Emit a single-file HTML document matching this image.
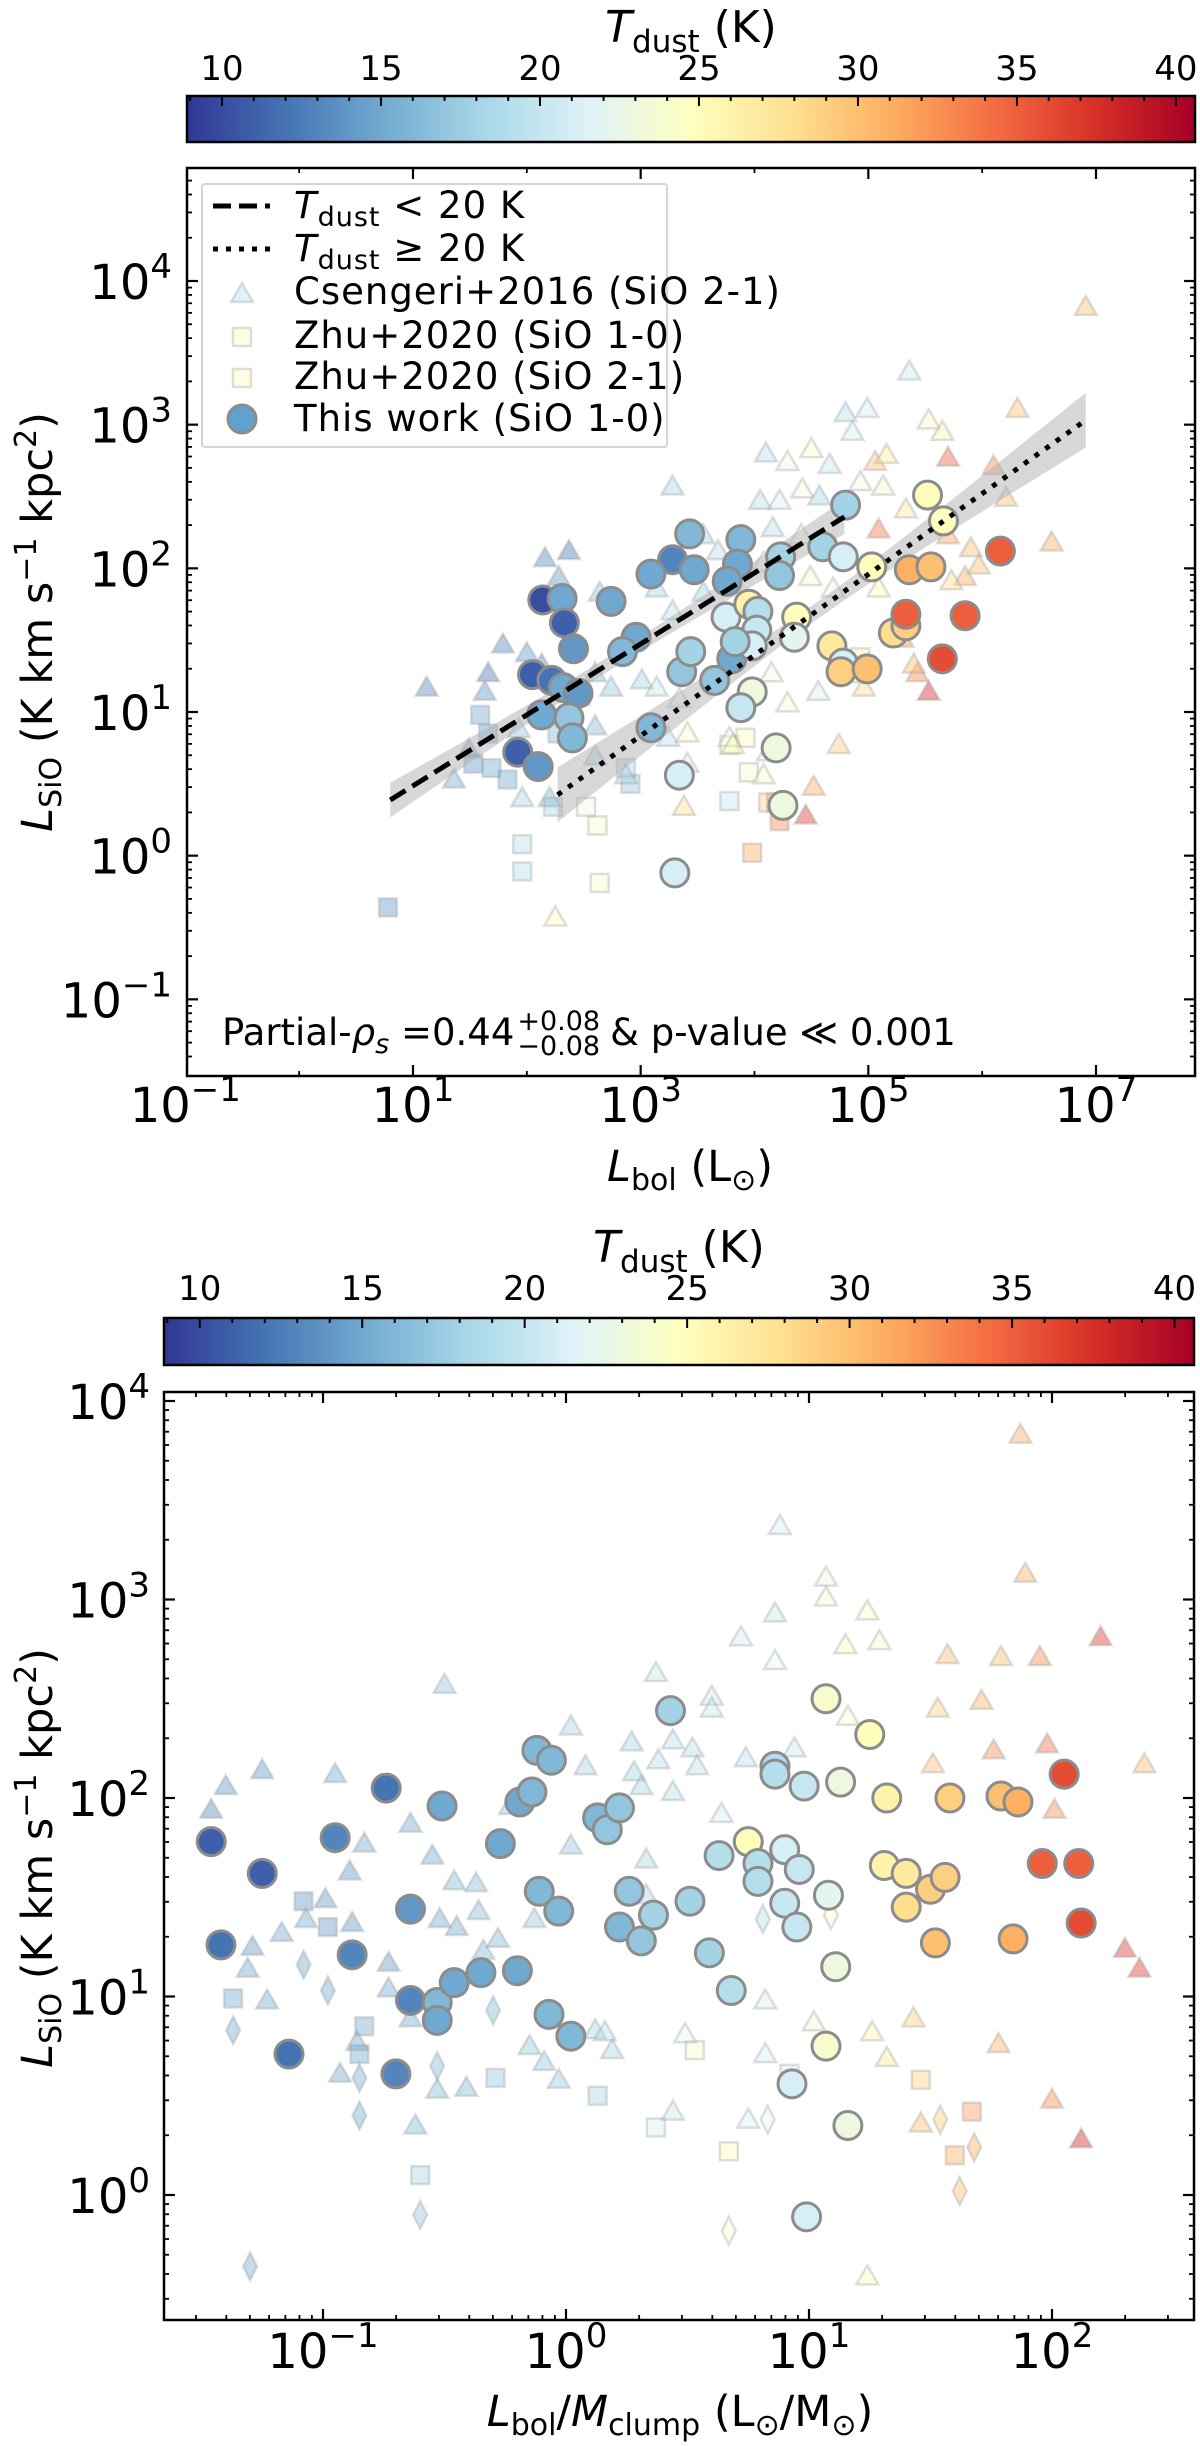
<!DOCTYPE html>
<html><head><meta charset="utf-8">
<style>
html,body{margin:0;padding:0;background:#fff;}
svg{display:block;}
text{font-family:"DejaVu Sans","Liberation Sans",sans-serif;fill:#000;}
</style></head>
<body>
<svg id="fig" width="1200" height="2446" viewBox="0 0 1200 2446" xmlns="http://www.w3.org/2000/svg">
<defs>
<linearGradient id="cmap" x1="0" x2="1" y1="0" y2="0">
<stop offset="0" stop-color="#313695"/><stop offset="0.1" stop-color="#4575b4"/><stop offset="0.2" stop-color="#74add1"/><stop offset="0.3" stop-color="#abd9e9"/><stop offset="0.4" stop-color="#e0f3f8"/><stop offset="0.5" stop-color="#ffffbf"/><stop offset="0.6" stop-color="#fee090"/><stop offset="0.7" stop-color="#fdae61"/><stop offset="0.8" stop-color="#f46d43"/><stop offset="0.9" stop-color="#d73027"/><stop offset="1" stop-color="#a50026"/>
</linearGradient>
</defs>
</svg>
<script>
// ---------- colour scale ----------
const tMin = 8.9, tMax = 40.6;
const cmapStops = ["#313695","#4575b4","#74add1","#abd9e9","#e0f3f8","#ffffbf","#fee090","#fdae61","#f46d43","#d73027","#a50026"];
const cbarTicks = [10,15,20,25,30,35,40];

// ---------- TOP PANEL data (log10 Lbol, log10 LSiO, Tdust) ----------
const topCircLogL = [4.80,3.43,3.28,3.09,3.47,3.88,3.85,3.76,4.23,4.22,4.60,4.78,5.03,5.36,5.55,5.52,5.66,6.16,2.14,2.31,2.33,2.41,2.74,2.96,2.84,2.05,2.22,2.32,2.45,2.13,2.37,2.40,1.92,2.10,3.36,3.44,3.09,3.65,3.80,3.75,3.95,4.03,4.02,3.98,3.83,3.98,3.88,4.37,4.35,4.68,4.78,4.76,4.99,5.22,5.33,5.33,5.85,5.65,4.19,4.25,3.34,3.30];
const topCircLogS = [2.44,2.24,2.06,1.96,1.99,2.20,2.03,1.91,2.08,1.95,2.15,2.08,2.01,1.99,2.01,2.51,2.33,2.12,1.78,1.79,1.62,1.44,1.77,1.52,1.42,1.26,1.22,1.17,1.13,0.98,0.96,0.82,0.72,0.62,1.28,1.42,0.89,1.22,1.37,1.66,1.75,1.70,1.57,1.46,1.49,1.14,1.03,1.66,1.52,1.46,1.34,1.28,1.30,1.55,1.60,1.68,1.67,1.37,0.75,0.35,0.56,-0.12];
const topCircT = [18,16,13,15,15,16,15,15,18,17,18,21,25,31,30,25,25,35,10,15,11,14,15,15,16,11,12,15,14,15,17,16,11,14,17,18,16,17,15,21,26,19,20,21,18,23,20,25,22,27,21,29,30,28,29,35,35,36,23,23,21,21];

const topTriLogL = [6.91,5.36,6.31,4.80,4.99,5.53,5.65,4.10,4.29,4.50,4.66,4.86,5.06,5.16,5.70,6.10,6.21,6.61,5.90,3.28,4.05,4.22,4.42,4.57,4.93,5.13,5.33,5.70,5.09,5.85,4.41,4.16,3.55,3.68,4.08,4.49,4.69,5.09,5.73,5.97,2.16,2.37,2.28,2.64,3.14,3.28,3.55,1.79,1.66,1.63,2.00,2.13,2.60,2.74,3.01,3.14,4.15,4.29,4.56,4.96,5.43,5.53,5.40,5.30,1.36,1.96,2.20,2.60,2.87,3.24,3.41,3.78,4.08,4.52,4.74,3.38,4.45,2.25,1.93,2.60,3.81,4.12,3.34,1.12,1.49,3.41];
const topTriLogS = [3.82,3.37,3.11,3.08,3.11,3.03,2.95,2.80,2.74,2.83,2.72,2.95,2.74,2.79,2.77,2.71,2.49,2.18,2.14,2.57,2.47,2.47,2.55,2.50,2.60,2.57,2.41,2.23,2.27,1.94,2.23,2.28,2.23,2.12,2.04,1.94,1.86,1.86,1.91,2.02,2.07,2.12,1.94,1.83,1.86,1.70,1.83,1.47,1.27,1.14,1.41,1.33,1.27,1.17,1.22,1.17,1.27,1.06,1.14,1.17,1.27,1.14,1.33,1.51,0.53,0.40,0.40,0.69,0.56,0.82,0.85,0.82,0.56,0.48,0.77,0.34,0.28,-0.43,0.88,0.90,0.77,0.72,1.09,1.17,0.74,0.64];
const topTriT = [30,20,30,19,21,25,26,19,23,24,20,21,30,27,35,33,30,31,30,18,19,21,23,18,23,24,27,32,34,31,24,19,18,19,23,24,23,25,28,30,13,12,14,17,18,19,18,13,12,14,14,13,16,17,18,20,23,24,21,28,33,38,30,33,15,18,16,17,18,19,24,23,24,31,29,28,37,25,17,16,25,22,22,13,14,21];

const topSqLogL = [0.78,1.59,1.66,1.69,1.53,1.83,1.96,1.96,2.13,2.27,2.23,2.52,2.62,2.64,2.91,2.87,3.78,3.78,3.92,3.95,3.98,4.12,4.19,4.22,4.93,2.47,4.83];
const topSqLogS = [-0.36,0.98,0.85,0.61,0.64,0.53,0.08,-0.11,0.96,0.85,0.34,0.34,0.21,-0.19,0.50,0.61,0.38,0.77,0.82,0.58,0.02,0.37,0.37,0.24,1.38,1.11,1.27];
const topSqT = [14,15,14,15,14,15,19,19,14,16,18,23,24,24,17,18,20,24,25,24,31,29,31,33,26,17,24];

// fit lines: [logL start, logL end], [intercept at logL=0, slope]
const fitColdRange = [0.80, 4.79];
const fitColdCoef = [-0.008, 0.494];
const fitWarmRange = [2.27, 6.91];
const fitWarmCoef = [-0.852, 0.562];

// ---------- BOTTOM PANEL data (log10 L/M, log10 LSiO, Tdust) ----------
const botCircLogLM = [-1.46,-1.25,-1.42,-1.14,-0.74,-0.95,-0.88,-0.64,-0.70,-0.64,-0.51,-0.53,-0.53,-0.46,-0.35,-0.27,-0.20,-0.19,-0.14,-0.12,-0.06,-0.11,-0.03,-0.07,0.02,0.13,0.17,0.22,0.26,0.22,0.31,0.36,0.43,0.51,0.59,0.63,0.68,0.75,0.79,0.79,0.86,0.86,0.98,0.90,0.96,0.90,0.95,1.07,1.13,1.08,1.11,1.07,0.93,1.16,0.99,1.25,1.32,1.31,1.40,1.40,1.50,1.56,1.52,1.58,1.79,1.86,1.84,1.96,2.11,2.05,2.12];
const botCircLogS = [1.78,1.62,1.26,0.71,2.05,1.80,1.21,1.44,0.61,0.98,1.96,0.97,0.88,1.07,1.12,1.77,1.13,1.98,2.03,2.24,2.19,1.53,1.43,0.91,0.80,1.90,1.84,1.95,1.53,1.35,1.28,1.41,2.44,1.48,1.22,1.71,1.03,1.78,1.67,1.58,2.16,2.12,2.06,1.74,1.64,1.47,1.35,2.50,2.08,1.51,1.15,0.75,0.56,0.35,-0.11,2.32,2.00,1.66,1.62,1.45,1.54,1.60,1.27,2.00,2.01,1.98,1.29,1.67,1.67,2.12,1.37];
const botCircT = [11,11,12,12,12,13,13,14,13,13,15,16,15,15,15,15,15,15,16,16,16,16,16,16,16,16,17,17,17,16,17,18,18,18,18,19,19,25,19,19,19,19,20,21,20,20,20,24,23,22,23,24,21,23,21,25,26,26,27,28,29,29,30,29,30,31,31,35,35,36,36];

const botTriLogLM = [-1.46,-1.40,-1.25,-0.95,-0.50,-1.29,-1.23,-1.31,-1.17,-1.07,-0.99,-0.93,-0.89,-0.88,-0.86,-0.83,-0.73,-0.73,-0.64,-0.62,-0.64,-0.55,-0.53,-0.52,-0.46,-0.45,-0.41,-0.37,-0.36,-0.34,-0.28,-0.23,-0.15,-0.13,-0.09,-0.03,0.02,0.02,0.08,0.12,0.16,0.19,0.27,0.28,0.31,0.33,0.33,0.38,0.37,0.44,0.44,0.44,0.52,0.54,0.49,0.60,0.60,0.64,0.72,0.74,0.75,0.82,0.82,0.86,0.86,0.88,0.94,1.02,1.07,1.07,1.15,1.16,1.24,1.29,1.24,1.26,1.32,1.43,1.46,1.51,1.53,1.57,1.71,1.76,1.78,1.79,1.87,1.89,1.95,1.98,2.00,2.01,2.20,2.30,2.36,2.38,2.12];
const botTriLogS = [1.94,2.06,2.14,2.12,2.57,1.25,0.98,1.14,1.32,1.39,1.49,0.61,1.63,1.37,0.77,1.77,1.17,1.04,0.89,0.35,1.87,1.71,0.53,1.39,1.58,1.35,0.54,1.57,1.43,1.23,1.29,1.96,0.75,1.39,0.67,0.58,2.36,1.76,2.16,0.83,0.82,0.73,2.28,2.13,2.06,1.69,1.51,2.19,2.63,2.03,0.42,2.29,2.25,2.16,0.81,2.51,2.45,1.92,2.81,2.20,0.38,0.71,0.98,2.93,2.69,3.37,2.25,0.87,3.11,3.01,2.77,2.41,2.94,2.79,-0.41,0.82,0.69,0.89,0.36,2.17,2.45,2.72,2.49,2.24,0.76,2.71,3.83,3.13,2.71,2.27,0.48,1.94,2.81,1.24,1.14,2.17,0.28];
const botTriT = [13,14,14,15,17,14,15,15,15,15,14,15,14,14,15,15,14,15,15,16,15,15,16,15,16,15,16,16,16,16,16,17,17,17,17,17,18,17,18,18,19,18,18,18,18,18,18,19,20,19,20,19,19,19,22,20,20,21,21,19,21,21,21,20,22,21,20,23,23,24,25,24,25,24,25,26,27,29,30,30,29,30,31,33,31,30,31,31,33,34,33,33,37,37,37,30,38];

const botSqLogLM = [-1.08,-0.98,-1.37,-0.83,-0.85,-0.29,-0.60,0.13,0.37,0.67,0.53,0.92,1.46,1.67,1.60];
const botSqLogS = [1.48,1.35,0.99,0.85,0.71,0.59,0.10,0.50,0.34,0.22,0.73,0.61,0.58,0.42,0.20];
const botSqT = [14,14,15,15,15,17,18,18,21,25,24,21,29,32,31];

const botDiaLogLM = [-1.30,-1.37,-1.08,-0.98,-0.85,-0.85,-0.60,-0.53,-0.30,0.81,0.83,0.67,1.54,1.62,1.68,1.09];
const botDiaLogS = [-0.36,0.83,1.16,1.03,0.59,0.40,-0.10,0.65,0.93,1.39,0.38,-0.18,0.38,0.02,0.24,1.41];
const botDiaT = [15,15,15,15,15,15,17,16,16,19,22,24,29,30,31,24];

// ---------- helpers ----------
const NS = "http://www.w3.org/2000/svg";
const svg = document.getElementById('fig');
function el(tag, attrs, parent){ const e=document.createElementNS(NS,tag); for(const k in attrs) e.setAttribute(k,attrs[k]); (parent||svg).appendChild(e); return e; }
function hex2rgb(h){ return [parseInt(h.slice(1,3),16),parseInt(h.slice(3,5),16),parseInt(h.slice(5,7),16)]; }
function tcolor(t){
  let f=(t-tMin)/(tMax-tMin); f=Math.max(0,Math.min(1,f));
  const p=f*(cmapStops.length-1); const i=Math.min(Math.floor(p),cmapStops.length-2); const r=p-i;
  const a=hex2rgb(cmapStops[i]), b=hex2rgb(cmapStops[i+1]);
  return 'rgb('+a.map((v,k)=>Math.round(v+(b[k]-v)*r)).join(',')+')';
}
function mkAxis(p0,p1,d0,d1){ return v=>p0+(v-d0)*(p1-p0)/(d1-d0); }

function colorbar(x0,x1,y0,y1,labelBase,titleBase){
  const g=el('g',{});  
  const r=el('rect',{x:x0,y:y0,width:x1-x0,height:y1-y0,fill:'url(#cmap)',stroke:'#000','stroke-width':2.5},g);
   
  const cx=mkAxis(x0,x1,tMin,tMax);
  for(let t=9;t<=40;t++){
    const major=(t%5===0);
    el('line',{x1:cx(t),x2:cx(t),y1:y0,y2:y0+(major?10:5),stroke:'#000','stroke-width':2},g);
  }
  cbarTicks.forEach(t=>{
    const tx=el('text',{x:cx(t),y:labelBase,'font-size':34,'text-anchor':'middle'},g);
    tx.textContent=t;
     
  });
  const tt=el('text',{x:(x0+x1)/2,y:titleBase,'font-size':44,'text-anchor':'middle'},g);
   
  tt.innerHTML='<tspan font-style="italic">T</tspan><tspan font-size="31" dy="10">dust</tspan><tspan dy="-10"> (K)</tspan>';
}

function marker(g,type,x,y,t,bg,name){
  let e;
  const fill=tcolor(t);
  const st = bg ? {fill:fill,'fill-opacity':0.42,stroke:'#9a9a9a','stroke-opacity':0.32,'stroke-width':2.5}
               : {fill:fill,stroke:'#8c8c8c','stroke-width':3};
  if(type==='tri') e=el('polygon',Object.assign({points:(x)+','+(y-11)+' '+(x-11)+','+(y+8)+' '+(x+11)+','+(y+8)},st),g);
  else if(type==='sq') e=el('rect',Object.assign({x:x-9,y:y-9,width:18,height:18},st),g);
  else if(type==='dia') e=el('polygon',Object.assign({points:x+','+(y-14)+' '+(x+7)+','+y+' '+x+','+(y+14)+' '+(x-7)+','+y},st),g);
  else e=el('circle',Object.assign({cx:x,cy:y,r:14},st),g);
  
  
  return e;
}

function expLabel(g,x,y,exp,anchor,name){
  const t=el('text',{x:x,y:y,'font-size':48,'text-anchor':anchor},g);
  t.innerHTML='10<tspan font-size="34" dy="-21">'+(exp<0?'\u2212'+(-exp):exp)+'</tspan>';
   
}

function frame(g,L,R,T,B,xs,ys,xMajors,xMinorsAll,yMin,yMax){
  const f=el('rect',{x:L,y:T,width:R-L,height:B-T,fill:'none',stroke:'#000','stroke-width':2.5},g);
   
  xMinorsAll.forEach(v=>{ const X=xs(v); if(X<L||X>R) return;
    el('line',{x1:X,x2:X,y1:B,y2:B-5,stroke:'#000','stroke-width':1.8},g);
    el('line',{x1:X,x2:X,y1:T,y2:T+5,stroke:'#000','stroke-width':1.8},g);});
  xMajors.forEach(v=>{ const X=xs(v); if(X<L-1||X>R+1) return;
    el('line',{x1:X,x2:X,y1:B,y2:B-11,stroke:'#000','stroke-width':2.2},g);
    el('line',{x1:X,x2:X,y1:T,y2:T+11,stroke:'#000','stroke-width':2.2},g);});
  for(let d=Math.floor(yMin);d<=Math.ceil(yMax);d++){
    for(let m=1;m<10;m++){
      const v=d+Math.log10(m); if(v<yMin||v>yMax) continue;
      const Y=ys(v); const len=(m===1)?11:5;
      el('line',{x1:L,x2:L+len,y1:Y,y2:Y,stroke:'#000','stroke-width':(m===1)?2.2:1.8},g);
      el('line',{x1:R,x2:R-len,y1:Y,y2:Y,stroke:'#000','stroke-width':(m===1)?2.2:1.8},g);
    }
  }
}
const yLabelHTML='<tspan font-style="italic">L</tspan><tspan font-size="30" dy="9">SiO</tspan><tspan dy="-9"> (K km s</tspan><tspan font-size="30" dy="-16">\u22121</tspan><tspan dy="16"> kpc</tspan><tspan font-size="30" dy="-16">2</tspan><tspan dy="16">)</tspan>';

// ---------- TOP PANEL ----------
colorbar(187,1195,96,142,80,42);
(function(){
  const L=187,R=1195,T=168,B=1076;
  const xs=mkAxis(413,1096,1,7);       // log10 Lbol
  const ys=mkAxis(712,281,1,4);        // log10 LSiO
  const g=el('g',{});  
  const clip=el('clipPath',{id:'clipTop'},g); el('rect',{x:L,y:T,width:R-L,height:B-T},clip);
  const pg=el('g',{'clip-path':'url(#clipTop)'},g);
  topSqLogL.forEach((v,i)=>marker(pg,'sq',xs(v),ys(topSqLogS[i]),topSqT[i],true,'zhu2020-point'));
  topTriLogL.forEach((v,i)=>marker(pg,'tri',xs(v),ys(topTriLogS[i]),topTriT[i],true,'csengeri2016-point'));
  function band(range,coef,s0,s1,name){
    const xc=(range[0]+range[1])/2, up=[], lo=[];
    for(let k=0;k<=40;k++){
      const v=range[0]+(range[1]-range[0])*k/40;
      const hw=Math.sqrt(s0*s0+s1*s1*(v-xc)*(v-xc));
      const c=coef[0]+coef[1]*v;
      up.push(xs(v)+','+ys(c+hw)); lo.unshift(xs(v)+','+ys(c-hw));
    }
    const p=el('polygon',{points:up.concat(lo).join(' '),fill:'#b0b0b0','fill-opacity':0.5,stroke:'none'},pg);
     
  }
  band(fitColdRange,fitColdCoef,0.05,0.055,'cold-fit-band');
  band(fitWarmRange,fitWarmCoef,0.06,0.078,'warm-fit-band');
  topCircLogL.forEach((v,i)=>marker(pg,'circ',xs(v),ys(topCircLogS[i]),topCircT[i],false,'this-work-point'));
  const l1=el('line',{x1:xs(fitColdRange[0]),y1:ys(fitColdCoef[0]+fitColdCoef[1]*fitColdRange[0]),x2:xs(fitColdRange[1]),y2:ys(fitColdCoef[0]+fitColdCoef[1]*fitColdRange[1]),stroke:'#000','stroke-width':5,'stroke-dasharray':'18,8'},pg);
   
  const l2=el('line',{x1:xs(fitWarmRange[0]),y1:ys(fitWarmCoef[0]+fitWarmCoef[1]*fitWarmRange[0]),x2:xs(fitWarmRange[1]),y2:ys(fitWarmCoef[0]+fitWarmCoef[1]*fitWarmRange[1]),stroke:'#000','stroke-width':5,'stroke-dasharray':'5,8'},pg);
   

  const xMaj=[-1,1,3,5,7], xMin=[0,2,4,6];
  frame(g,L,R,T,B,xs,ys,xMaj,xMin,-1.52,4.77);
  xMaj.forEach(e=>expLabel(g,xs(e),1122,e,'middle','x-tick-label'));
  [-1,0,1,2,3,4].forEach(e=>expLabel(g,172,ys(e)+18,e,'end','y-tick-label'));
  // legend
  const lg=el('g',{});   g.appendChild(lg);
  el('rect',{x:202,y:184,width:465,height:263,fill:'#fff','fill-opacity':0.8,stroke:'#d5d5d5','stroke-width':2,rx:3},lg);
  const rows=[218,261,304,348,389,431];
  el('line',{x1:213,x2:270,y1:rows[0]-12,y2:rows[0]-12,stroke:'#000','stroke-width':5,'stroke-dasharray':'18,8'},lg);
  el('line',{x1:213,x2:270,y1:rows[1]-12,y2:rows[1]-12,stroke:'#000','stroke-width':5,'stroke-dasharray':'5,8'},lg);
  marker(lg,'tri',242,rows[2]-10,19,true,'legend-triangle');
  marker(lg,'sq',242,rows[3]-11,25,true,'legend-square-10');
  marker(lg,'sq',242,rows[4]-11,25,true,'legend-square-21');
  const lc=el('circle',{cx:242,cy:rows[5]-12,r:14,fill:'#62a0d0',stroke:'#8c8c8c','stroke-width':3},lg);
   
  const labs=['<tspan font-style="italic">T</tspan><tspan font-size="27" dy="8">dust</tspan><tspan dy="-8"> &lt;  20 K</tspan>',
    '<tspan font-style="italic">T</tspan><tspan font-size="27" dy="8">dust</tspan><tspan dy="-8"> \u2265  20 K</tspan>',
    'Csengeri+2016 (SiO 2-1)','Zhu+2020 (SiO 1-0)','Zhu+2020 (SiO 2-1)','This work (SiO 1-0)'];
  labs.forEach((s,i)=>{ const t=el('text',{x:294,y:rows[i],'font-size':37,'letter-spacing':1},lg); t.innerHTML=s;
      });
  // stats text
  const st=el('text',{x:222,y:1045,'font-size':37},g);
   
  st.innerHTML='Partial-<tspan font-style="italic">\u03c1</tspan><tspan font-size="27" font-style="italic" dy="8">s</tspan><tspan dy="-8"> =0.44</tspan>';
  let sx=222+st.getComputedTextLength()+3;
  const st2=el('text',{x:sx,y:1030,'font-size':27},g); st2.textContent='+0.08';
   
  const st3=el('text',{x:sx,y:1055,'font-size':27},g); st3.textContent='\u22120.08';
   
  sx+=Math.max(st2.getComputedTextLength(),st3.getComputedTextLength())+10;
  const st4=el('text',{x:sx,y:1045,'font-size':37},g); st4.textContent='& p-value  \u226a 0.001';
   
  // axis labels
  const xl=el('text',{x:690,y:1181,'font-size':43,'text-anchor':'middle'},g);
   
  xl.innerHTML='<tspan font-style="italic">L</tspan><tspan font-size="30" dy="9">bol</tspan><tspan dy="-9"> (L</tspan><tspan font-size="30" dy="9">\u2299</tspan><tspan dy="-9">)</tspan>';
  const yl=el('text',{x:0,y:0,'font-size':43,'text-anchor':'middle',transform:'translate(52,622) rotate(-90)'},g);
   
  yl.innerHTML=yLabelHTML;
})();

// ---------- BOTTOM PANEL ----------
colorbar(164,1194,1318,1365,1300,1262);
(function(){
  const L=164,R=1194,T=1392,B=2320;
  const xs=mkAxis(566,809,0,1);        // log10 L/M
  const ys=mkAxis(1798,1401,2,4);      // log10 LSiO
  const g=el('g',{});  
  const clip=el('clipPath',{id:'clipBot'},g); el('rect',{x:L,y:T,width:R-L,height:B-T},clip);
  const pg=el('g',{'clip-path':'url(#clipBot)'},g);
  botSqLogLM.forEach((v,i)=>marker(pg,'sq',xs(v),ys(botSqLogS[i]),botSqT[i],true,'zhu2020-point'));
  botDiaLogLM.forEach((v,i)=>marker(pg,'dia',xs(v),ys(botDiaLogS[i]),botDiaT[i],true,'zhu2020-21-point'));
  botTriLogLM.forEach((v,i)=>marker(pg,'tri',xs(v),ys(botTriLogS[i]),botTriT[i],true,'csengeri2016-point'));
  botCircLogLM.forEach((v,i)=>marker(pg,'circ',xs(v),ys(botCircLogS[i]),botCircT[i],false,'this-work-point'));
  const xMaj=[-1,0,1,2], xMin=[];
  for(let d=-2;d<=2;d++) for(let m=2;m<10;m++) xMin.push(d+Math.log10(m));
  frame(g,L,R,T,B,xs,ys,xMaj,xMin,-0.61,4.05);
  xMaj.forEach(e=>expLabel(g,xs(e),2368,e,'middle','x-tick-label'));
  [0,1,2,3,4].forEach(e=>expLabel(g,150,ys(e)+18,e,'end','y-tick-label'));
  const xl=el('text',{x:680,y:2426,'font-size':43,'text-anchor':'middle'},g);
   
  xl.innerHTML='<tspan font-style="italic">L</tspan><tspan font-size="30" dy="9">bol</tspan><tspan dy="-9">/</tspan><tspan font-style="italic">M</tspan><tspan font-size="30" dy="9">clump</tspan><tspan dy="-9"> (L</tspan><tspan font-size="30" dy="9">\u2299</tspan><tspan dy="-9">/M</tspan><tspan font-size="30" dy="9">\u2299</tspan><tspan dy="-9">)</tspan>';
  const yl=el('text',{x:0,y:0,'font-size':43,'text-anchor':'middle',transform:'translate(52,1858) rotate(-90)'},g);
   
  yl.innerHTML=yLabelHTML;
})();
</script>
</body></html>
